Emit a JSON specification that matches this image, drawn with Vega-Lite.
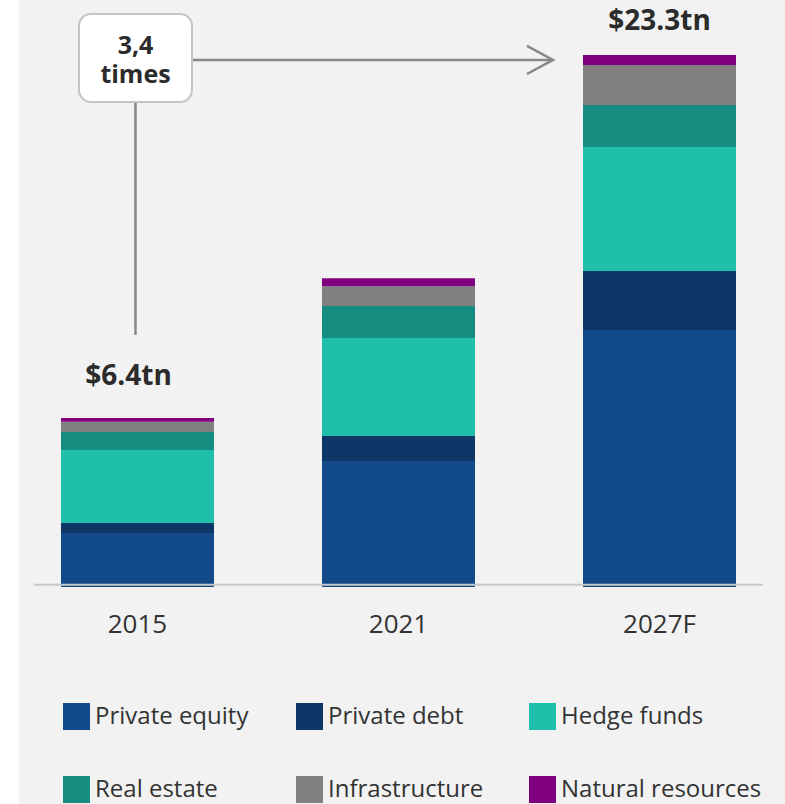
{
  "$schema": "https://vega.github.io/schema/vega-lite/v6.json",
  "width": 766,
  "height": 804,
  "autosize": {"type": "none"},
  "padding": {"left": 19, "top": 0, "right": 0, "bottom": 0},
  "background": "#ffffff",
  "config": {
    "view": {"fill": "#f2f2f2", "stroke": null},
    "font": "Open Sans"
  },
  "layer": [
    {
      "data": {
        "values": [
          {"year": "2015", "category": "Private equity", "rank": 1, "value": 2.36},
          {"year": "2015", "category": "Private debt", "rank": 2, "value": 0.44},
          {"year": "2015", "category": "Hedge funds", "rank": 3, "value": 3.19},
          {"year": "2015", "category": "Real estate", "rank": 4, "value": 0.79},
          {"year": "2015", "category": "Infrastructure", "rank": 5, "value": 0.44},
          {"year": "2015", "category": "Natural resources", "rank": 6, "value": 0.17},
          {"year": "2021", "category": "Private equity", "rank": 1, "value": 5.51},
          {"year": "2021", "category": "Private debt", "rank": 2, "value": 1.09},
          {"year": "2021", "category": "Hedge funds", "rank": 3, "value": 4.28},
          {"year": "2021", "category": "Real estate", "rank": 4, "value": 1.40},
          {"year": "2021", "category": "Infrastructure", "rank": 5, "value": 0.87},
          {"year": "2021", "category": "Natural resources", "rank": 6, "value": 0.35},
          {"year": "2027F", "category": "Private equity", "rank": 1, "value": 11.23},
          {"year": "2027F", "category": "Private debt", "rank": 2, "value": 2.58},
          {"year": "2027F", "category": "Hedge funds", "rank": 3, "value": 5.42},
          {"year": "2027F", "category": "Real estate", "rank": 4, "value": 1.84},
          {"year": "2027F", "category": "Infrastructure", "rank": 5, "value": 1.75},
          {"year": "2027F", "category": "Natural resources", "rank": 6, "value": 0.44}
        ]
      },
      "mark": {"type": "bar"},
      "encoding": {
        "x": {
          "field": "year",
          "type": "nominal",
          "scale": {"domain": ["2015", "2021", "2027F"], "paddingInner": 0.4138, "paddingOuter": 0.1743, "align": 0.4615},
          "axis": {
            "title": null,
            "labelAngle": 0,
            "labelFontSize": 26,
            "labelFont": "Open Sans",
            "labelColor": "#333333",
            "domain": false,
            "ticks": false,
            "labelPadding": 24,
            "offset": -217
          }
        },
        "y": {
          "field": "value",
          "type": "quantitative",
          "stack": "zero",
          "scale": {"domain": [-9.486, 25.66], "nice": false, "zero": false},
          "axis": null
        },
        "order": {"field": "rank", "type": "quantitative", "sort": "ascending"},
        "color": {
          "field": "category",
          "type": "nominal",
          "sort": ["Private equity", "Private debt", "Hedge funds", "Real estate", "Infrastructure", "Natural resources"],
          "scale": {
            "domain": ["Private equity", "Private debt", "Hedge funds", "Real estate", "Infrastructure", "Natural resources"],
            "range": ["#124a89", "#0e3768", "#20bfac", "#178c80", "#808080", "#81007f"]
          },
          "legend": {
            "title": null,
            "orient": "none",
            "legendX": 44,
            "legendY": 703,
            "direction": "horizontal",
            "columns": 3,
            "gridAlign": "all",
            "columnPadding": -3,
            "rowPadding": 46,
            "padding": 0,
            "symbolType": "square",
            "symbolSize": 729,
            "symbolStrokeWidth": 0,
            "symbolOpacity": 1,
            "labelFont": "Open Sans",
            "labelFontSize": 24,
            "labelColor": "#333333",
            "labelOffset": 5,
            "labelLimit": 400
          }
        }
      }
    },
    {
      "data": {"values": [{}]},
      "mark": {"type": "rule", "color": "#c8c8c8", "strokeWidth": 2, "xOffset": -103.5, "x2Offset": 103.5},
      "encoding": {
        "x": {"datum": "2015", "bandPosition": 0.5},
        "x2": {"datum": "2027F", "bandPosition": 0.5},
        "y": {"datum": 0.1}
      }
    },
    {
      "data": {"values": [{}]},
      "mark": {"type": "rule", "color": "#888888", "strokeWidth": 2.5, "xOffset": -2},
      "encoding": {
        "x": {"datum": "2015", "bandPosition": 0.5},
        "y": {"datum": 21.2},
        "y2": {"datum": 11.02}
      }
    },
    {
      "data": {"values": [{}]},
      "mark": {"type": "rule", "color": "#888888", "strokeWidth": 2.5, "xOffset": 54.5, "x2Offset": -107},
      "encoding": {
        "x": {"datum": "2015", "bandPosition": 0.5},
        "x2": {"datum": "2027F", "bandPosition": 0.5},
        "y": {"datum": 23.04}
      }
    },
    {
      "data": {"values": [{}]},
      "mark": {"type": "point", "shape": "M-1,-0.54L0,0L-1,0.54", "filled": false, "stroke": "#888888", "strokeWidth": 2.5, "size": 2704, "opacity": 1, "xOffset": -106.5},
      "encoding": {
        "x": {"datum": "2027F", "bandPosition": 0.5},
        "y": {"datum": 23.04}
      }
    },
    {
      "data": {"values": [{}]},
      "mark": {"type": "bar", "width": 113, "fill": "#ffffff", "stroke": "#c4c4c4", "strokeWidth": 2, "cornerRadius": 12, "xOffset": -2},
      "encoding": {
        "x": {"datum": "2015"},
        "y": {"datum": 25.05},
        "y2": {"datum": 21.2}
      }
    },
    {
      "data": {"values": [{}]},
      "mark": {"type": "text", "font": "Open Sans", "fontSize": 25, "fontWeight": "bold", "color": "#2b2b2b", "baseline": "middle", "align": "center", "lineHeight": 29, "xOffset": -2},
      "encoding": {
        "x": {"datum": "2015", "bandPosition": 0.5},
        "y": {"datum": 23.65},
        "text": {"value": ["3,4", "times"]}
      }
    },
    {
      "data": {"values": [{}]},
      "mark": {"type": "text", "font": "Open Sans", "fontSize": 28, "fontWeight": "bold", "color": "#2b2b2b", "baseline": "middle", "align": "center", "xOffset": -9},
      "encoding": {
        "x": {"datum": "2015", "bandPosition": 0.5},
        "y": {"datum": 9.2},
        "text": {"value": "$6.4tn"}
      }
    },
    {
      "data": {"values": [{}]},
      "mark": {"type": "text", "font": "Open Sans", "fontSize": 28, "fontWeight": "bold", "color": "#2b2b2b", "baseline": "middle", "align": "center"},
      "encoding": {
        "x": {"datum": "2027F", "bandPosition": 0.5},
        "y": {"datum": 24.7},
        "text": {"value": "$23.3tn"}
      }
    }
  ]
}
